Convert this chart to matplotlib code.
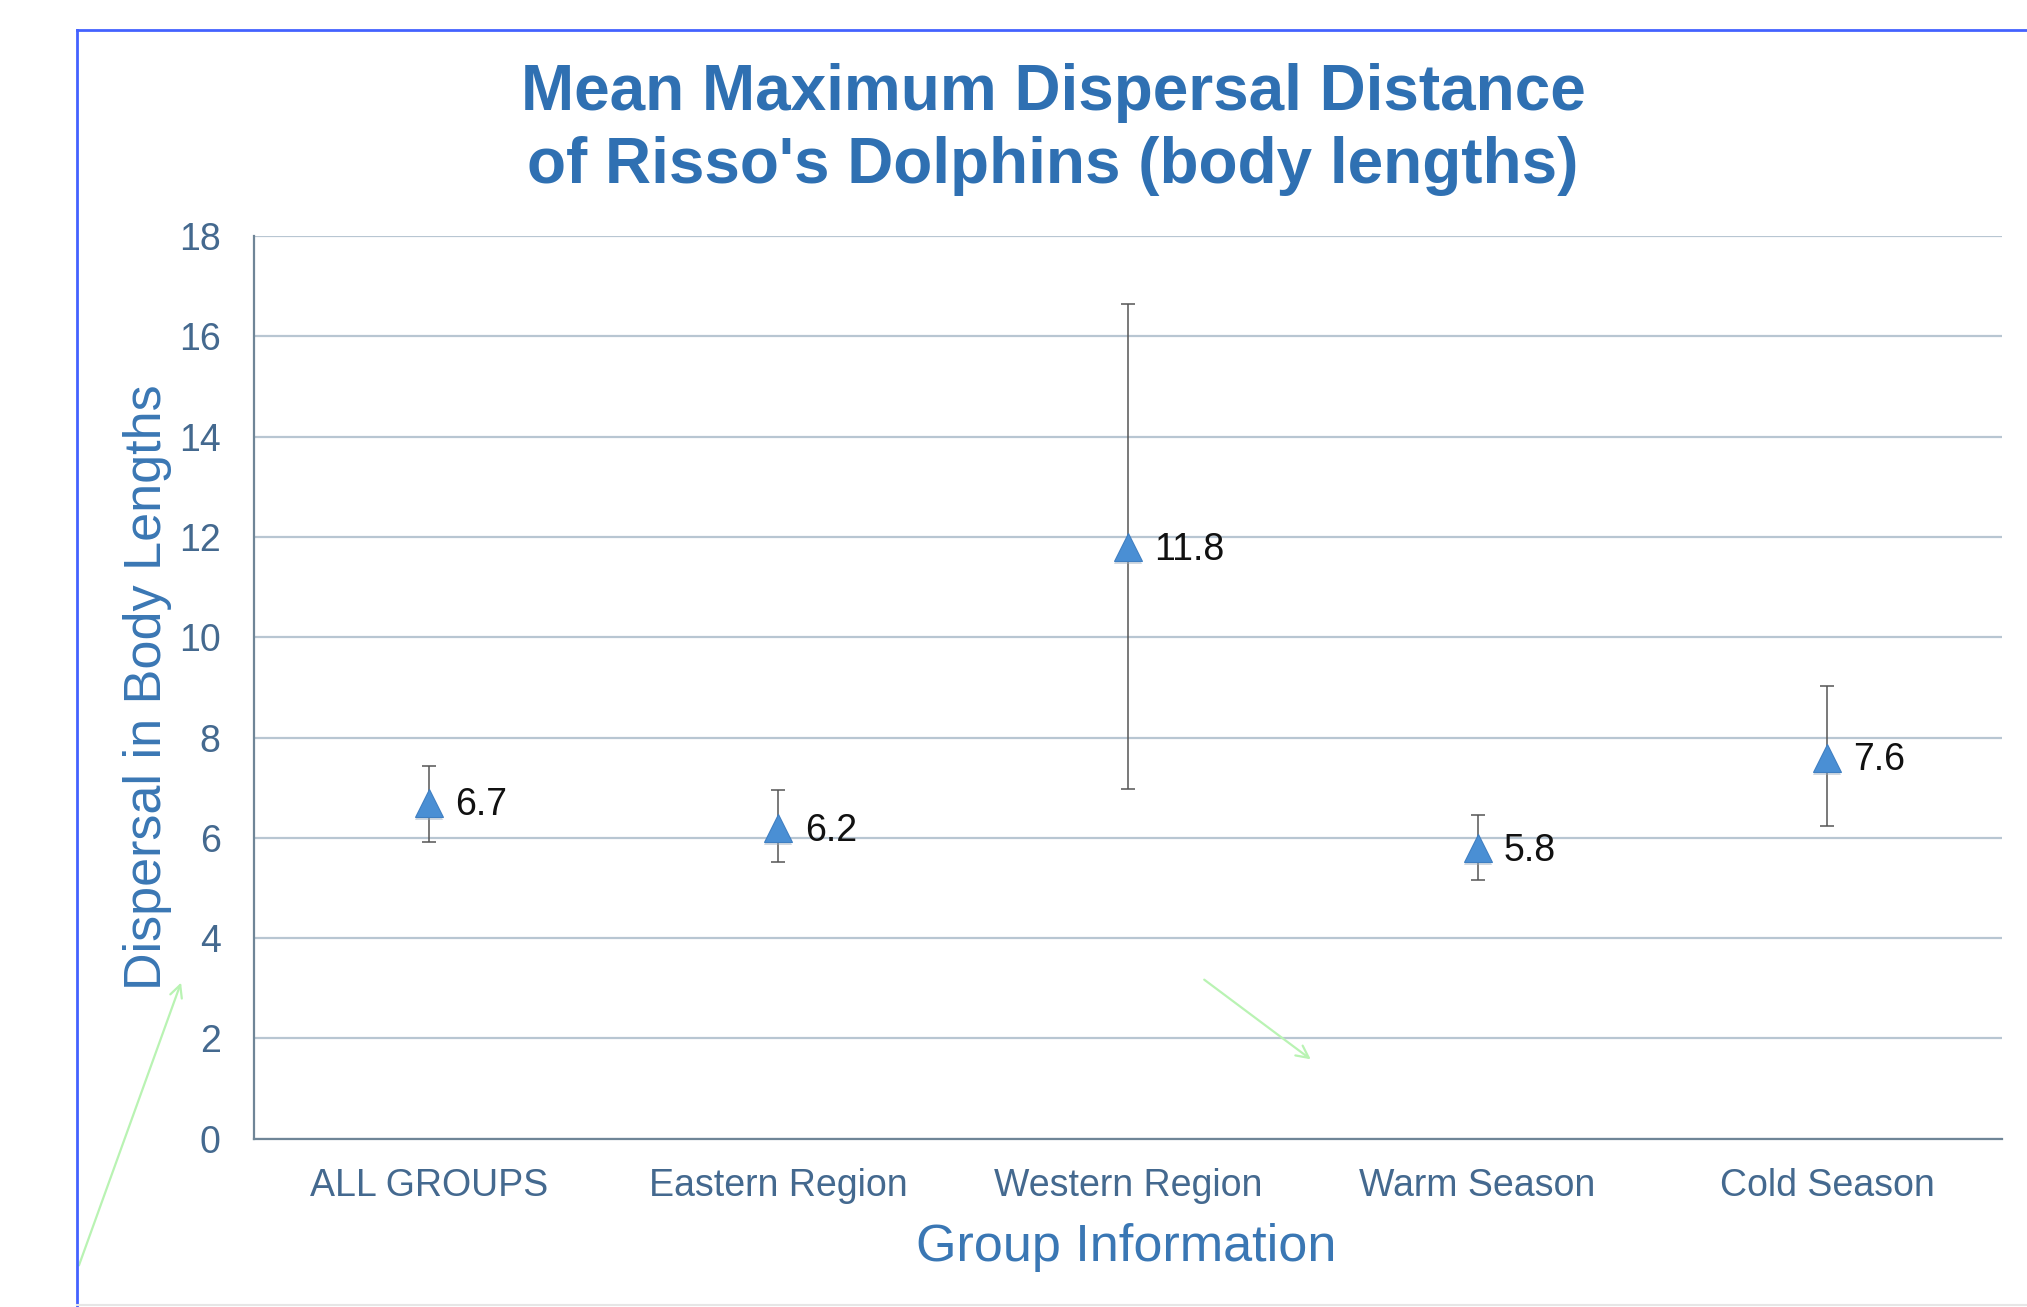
import matplotlib
matplotlib.use("Agg")
import matplotlib.pyplot as plt
from matplotlib.patches import FancyArrowPatch
from matplotlib.lines import Line2D

plt.rcParams['font.family'] = ['Liberation Sans', 'DejaVu Sans']

categories = ["ALL GROUPS", "Eastern Region", "Western Region", "Warm Season", "Cold Season"]
means = [6.7, 6.2, 11.8, 5.8, 7.6]
upper = [7.44, 6.96, 16.65, 6.45, 9.03]
lower = [5.91, 5.52, 6.98, 5.15, 6.23]
yticks = [0, 2, 4, 6, 8, 10, 12, 14, 16, 18]

W, H = 2027, 1307
fig = plt.figure(figsize=(W / 100, H / 100), dpi=100)
fig.patch.set_facecolor('white')

ax = fig.add_axes([254 / W, 1 - 1138.7 / H, (2002 - 254) / W, (1138.7 - 236) / H])
x = list(range(len(categories)))
err_lo = [m - l for m, l in zip(means, lower)]
err_hi = [u - m for m, u in zip(means, upper)]

ax.errorbar(x, means, yerr=[err_lo, err_hi], fmt='none', ecolor='#555555',
            elinewidth=1.1, capsize=4.7, capthick=1.1, zorder=3)
# soft shadow
ax.plot(x, [m - 0.06 for m in means], linestyle='none', marker='^', markersize=20.5,
        color='#9aa9bb', alpha=0.45, markeredgewidth=0, zorder=3.5)
ax.plot(x, means, linestyle='none', marker='^', markersize=19.5,
        color='#4a8fd4', markeredgecolor='#3f7fc2', markeredgewidth=0.8, zorder=4)
for xi, m in zip(x, means):
    ax.annotate(f"{m:.1f}", (xi, m), xytext=(19, -2), textcoords='offset points',
                va='center', ha='left', fontsize=27, color='#111111')

ax.set_xlim(-0.5, len(categories) - 0.5)
ax.set_ylim(0, 18)
ax.set_yticks(yticks)
ax.set_yticklabels([str(t) for t in yticks])
ax.set_xticks(x)
ax.set_xticklabels(categories)
ax.tick_params(axis='y', length=0, pad=24, labelsize=27, labelcolor='#44698f')
ax.tick_params(axis='x', length=0, pad=21, labelsize=27, labelcolor='#44698f')
ax.grid(axis='y', color='#b8c6d2', linewidth=1.6)
ax.set_axisbelow(True)
for s in ['top', 'right']:
    ax.spines[s].set_visible(False)
for s in ['left', 'bottom']:
    ax.spines[s].set_color('#6f8597')
    ax.spines[s].set_linewidth(1.6)

title_color = '#2f70b2'
fig.text(1053 / W, 1 - 110 / H, "Mean Maximum Dispersal Distance", ha='center',
         va='baseline', fontsize=46, fontweight='bold', color=title_color)
fig.text(1053 / W, 1 - 183 / H, "of Risso's Dolphins (body lengths)", ha='center',
         va='baseline', fontsize=46, fontweight='bold', color=title_color)
fig.text(148 / W, 1 - 687 / H, "Dispersal in Body Lengths", rotation=90, ha='center',
         va='center', fontsize=37.5, color='#3a77b4')
fig.text(1126 / W, 1 - 1248 / H, "Group Information", ha='center', va='center',
         fontsize=37.5, color='#3a77b4')

# blue frame
fig.add_artist(Line2D([77 / W, 77 / W], [0, 1 - 30 / H], transform=fig.transFigure,
                      color='#4462ff', linewidth=2))
fig.add_artist(Line2D([77 / W, 1], [1 - 30 / H, 1 - 30 / H], transform=fig.transFigure,
                      color='#4462ff', linewidth=2))
fig.add_artist(Line2D([77 / W, 1], [1 - 1305 / H, 1 - 1305 / H], transform=fig.transFigure,
                      color='#e6e6e6', linewidth=1.5))

# green arrows
for (x0, y0), (x1, y1) in [((78, 1268), (182, 980)), ((1202, 978), (1313, 1061))]:
    fig.add_artist(FancyArrowPatch((x0 / W, 1 - y0 / H), (x1 / W, 1 - y1 / H),
                                   transform=fig.transFigure, arrowstyle='->',
                                   mutation_scale=22, color='#b9f3b3', linewidth=1.6))

fig.savefig("out.png", dpi=100, facecolor='white')
